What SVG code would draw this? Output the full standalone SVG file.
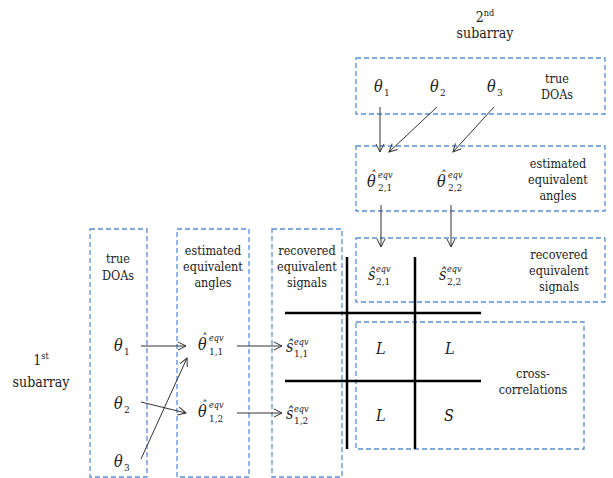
<svg xmlns="http://www.w3.org/2000/svg" width="613" height="478" viewBox="0 0 613 478">
<style>
.box{fill:none;stroke:#5b8fd2;stroke-width:1.3;stroke-dasharray:5,3}
text{font-family:"DejaVu Serif Condensed","DejaVu Serif",serif;font-stretch:condensed;fill:#222}
.lbl{font-size:12.5px;text-anchor:middle}
.big{font-size:14px;text-anchor:middle}
.m{font-style:italic;font-size:16px}
.sub{font-style:normal;font-size:10px}
.sup{font-style:italic;font-size:9px}
.hat{font-size:12px;text-anchor:middle}
.arr{stroke:#333;stroke-width:1;fill:none;marker-end:url(#ah)}
.thick{stroke:#000;stroke-width:2.5}
</style>
<defs>
<marker id="ah" markerUnits="userSpaceOnUse" markerWidth="12" markerHeight="12" refX="9" refY="5" orient="auto">
<path d="M1,1 L9,5 L1,9" fill="none" stroke="#333" stroke-width="1"/>
</marker>
</defs>

<g id="title1">
<text class="big" x="41" y="365">1<tspan font-size="9px" dy="-6">st</tspan></text>
<text class="big" x="41" y="387">subarray</text>
</g>
<g id="title2">
<text class="big" x="485" y="22">2<tspan font-size="9px" dy="-6">nd</tspan></text>
<text class="big" x="485" y="38">subarray</text>
</g>

<g id="box-true-doas-1">
<rect class="box" x="90" y="229" width="57" height="248"/>
<text class="lbl" x="118" y="263">true</text>
<text class="lbl" x="118" y="280">DOAs</text>
<text class="m" x="114" y="351">θ<tspan class="sub" x="124" y="355">1</tspan></text>
<text class="m" x="114" y="409">θ<tspan class="sub" x="124" y="413">2</tspan></text>
<text class="m" x="114" y="467">θ<tspan class="sub" x="124" y="471">3</tspan></text>
</g>

<g id="box-angles-1">
<rect class="box" x="177" y="229" width="72" height="248"/>
<text class="lbl" x="213" y="255">estimated</text>
<text class="lbl" x="213" y="271">equivalent</text>
<text class="lbl" x="213" y="287">angles</text>
<text class="hat" x="205" y="343">ˆ</text>
<text class="m" x="198" y="350">θ<tspan class="sub" x="209" y="355">1,1</tspan><tspan class="sup" x="209" y="341">eqv</tspan></text>
<text class="hat" x="205" y="410">ˆ</text>
<text class="m" x="198" y="417">θ<tspan class="sub" x="209" y="422">1,2</tspan><tspan class="sup" x="209" y="408">eqv</tspan></text>
</g>

<g id="box-signals-1">
<rect class="box" x="272" y="229" width="70" height="248"/>
<text class="lbl" x="307" y="255">recovered</text>
<text class="lbl" x="307" y="271">equivalent</text>
<text class="lbl" x="307" y="287">signals</text>
<text class="m" x="286" y="352">ŝ<tspan class="sub" x="294" y="357">1,1</tspan><tspan class="sup" x="294" y="345">eqv</tspan></text>
<text class="m" x="286" y="419">ŝ<tspan class="sub" x="294" y="424">1,2</tspan><tspan class="sup" x="294" y="412">eqv</tspan></text>
</g>

<g id="box-true-doas-2">
<rect class="box" x="356" y="58" width="249" height="56"/>
<text class="lbl" x="557" y="83">true</text>
<text class="lbl" x="557" y="99">DOAs</text>
<text class="m" x="374" y="92">θ<tspan class="sub" x="384" y="96">1</tspan></text>
<text class="m" x="430" y="92">θ<tspan class="sub" x="440" y="96">2</tspan></text>
<text class="m" x="487" y="92">θ<tspan class="sub" x="497" y="96">3</tspan></text>
</g>

<g id="box-angles-2">
<rect class="box" x="356" y="146" width="249" height="65"/>
<text class="lbl" x="558" y="168">estimated</text>
<text class="lbl" x="558" y="184">equivalent</text>
<text class="lbl" x="558" y="200">angles</text>
<text class="hat" x="374" y="180">ˆ</text>
<text class="m" x="367" y="187">θ<tspan class="sub" x="378" y="191">2,1</tspan><tspan class="sup" x="378" y="178">eqv</tspan></text>
<text class="hat" x="444" y="180">ˆ</text>
<text class="m" x="437" y="187">θ<tspan class="sub" x="448" y="191">2,2</tspan><tspan class="sup" x="448" y="178">eqv</tspan></text>
</g>

<g id="box-signals-2">
<rect class="box" x="356" y="238" width="249" height="64"/>
<text class="lbl" x="559" y="259">recovered</text>
<text class="lbl" x="559" y="275">equivalent</text>
<text class="lbl" x="559" y="291">signals</text>
<text class="m" x="368" y="280">ŝ<tspan class="sub" x="376" y="285">2,1</tspan><tspan class="sup" x="376" y="272">eqv</tspan></text>
<text class="m" x="439" y="280">ŝ<tspan class="sub" x="447" y="285">2,2</tspan><tspan class="sup" x="447" y="272">eqv</tspan></text>
</g>

<g id="box-cross-correlations">
<rect class="box" x="356" y="322" width="228" height="127"/>
<text class="lbl" x="533" y="378">cross-</text>
<text class="lbl" x="533" y="394">correlations</text>
<text class="m" x="376" y="354" font-size="15">L</text>
<text class="m" x="445" y="354" font-size="15">L</text>
<text class="m" x="376" y="421" font-size="15">L</text>
<text class="m" x="444" y="421" font-size="15">S</text>
</g>

<g id="grid">
<line class="thick" x1="347" y1="257" x2="347" y2="449"/>
<line class="thick" x1="415" y1="257" x2="415" y2="449"/>
<line class="thick" x1="285" y1="313" x2="481" y2="313"/>
<line class="thick" x1="285" y1="381" x2="481" y2="381"/>
</g>

<g id="connectors">
<line class="arr" x1="141" y1="346" x2="186" y2="346"/>
<line class="arr" x1="141" y1="402" x2="186" y2="413"/>
<line class="arr" x1="141" y1="459" x2="187" y2="358"/>
<line class="arr" x1="237" y1="346" x2="282" y2="346"/>
<line class="arr" x1="237" y1="413" x2="282" y2="413"/>
<line class="arr" x1="380" y1="107" x2="380" y2="152"/>
<line class="arr" x1="437" y1="107" x2="389" y2="152"/>
<line class="arr" x1="494" y1="107" x2="453" y2="152"/>
<line class="arr" x1="381" y1="205" x2="381" y2="247"/>
<line class="arr" x1="451" y1="205" x2="451" y2="247"/>
</g>
</svg>
